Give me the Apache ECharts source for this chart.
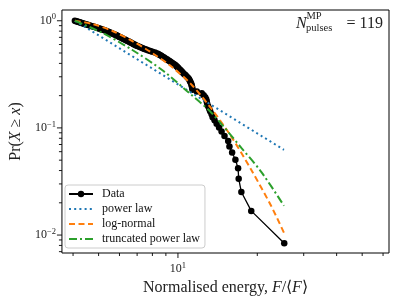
<!DOCTYPE html>
<html><head><meta charset="utf-8">
<script src="https://cdn.jsdelivr.net/npm/echarts@6/dist/echarts.min.js"></script>
<style>html,body{margin:0;padding:0;background:#fff}#c{width:399px;height:301px}</style>
</head><body><div id="c"></div>
<script>
// Empirical CCDF (normalised energy vs Pr(X >= x))
const dataX = [
  4.064, 4.107, 4.153, 4.197, 4.240, 4.289, 4.334, 4.383, 4.433, 4.498,
  4.549, 4.601, 4.656, 4.722, 4.775, 4.845, 4.900, 4.965, 5.012, 5.077,
  5.144, 5.197, 5.261, 5.330, 5.385, 5.436, 5.493, 5.551, 5.604, 5.662,
  5.716, 5.786, 5.841, 5.892, 5.954, 6.006, 6.069, 6.132, 6.186, 6.250,
  6.315, 6.381, 6.447, 6.514, 6.582, 6.646, 6.726, 6.792, 6.874, 6.940,
  7.024, 7.135, 7.241, 7.354, 7.463, 7.581, 7.693, 7.847, 7.998, 8.181,
  8.352, 8.447, 8.543, 8.646, 8.752, 8.860, 8.967, 9.077, 9.180, 9.290,
  9.395, 9.519, 9.643, 9.768, 9.853, 9.948, 10.03, 10.13, 10.23, 10.34,
  10.44, 10.55, 10.67, 10.79, 10.91, 11.01, 11.08, 11.14, 11.21, 11.27,
  11.30, 11.33, 11.36, 11.79, 12.31, 12.52, 12.69, 12.80, 12.86, 12.91,
  13.02, 13.14, 13.25, 13.42, 13.54, 13.77, 14.02, 14.32, 14.64, 15.02,
  15.51, 15.68, 16.05, 16.52, 16.91, 17.00, 17.40, 18.97, 25.31
];
const dataY = [
  1.0, 0.99160, 0.98319, 0.97479, 0.96639, 0.95798, 0.94958, 0.94118, 0.93277, 0.92437,
  0.91597, 0.90756, 0.89916, 0.89076, 0.88235, 0.87395, 0.86555, 0.85714, 0.84874, 0.84034,
  0.83193, 0.82353, 0.81513, 0.80672, 0.79832, 0.78992, 0.78151, 0.77311, 0.76471, 0.75630,
  0.74790, 0.73950, 0.73109, 0.72269, 0.71429, 0.70588, 0.69748, 0.68908, 0.68067, 0.67227,
  0.66387, 0.65546, 0.64706, 0.63866, 0.63025, 0.62185, 0.61345, 0.60504, 0.59664, 0.58824,
  0.57983, 0.57143, 0.56303, 0.55462, 0.54622, 0.53782, 0.52941, 0.52101, 0.51261, 0.50420,
  0.49580, 0.48739, 0.47899, 0.47059, 0.46218, 0.45378, 0.44538, 0.43697, 0.42857, 0.42017,
  0.41176, 0.40336, 0.39496, 0.38655, 0.37815, 0.36975, 0.36134, 0.35294, 0.34454, 0.33613,
  0.32773, 0.31933, 0.31092, 0.30252, 0.29412, 0.28571, 0.27731, 0.26891, 0.26050, 0.25210,
  0.24370, 0.23529, 0.22689, 0.21849, 0.21008, 0.20168, 0.19328, 0.18487, 0.17647, 0.16807,
  0.15966, 0.15126, 0.14286, 0.13445, 0.12605, 0.11765, 0.10924, 0.10084, 0.09244, 0.08403,
  0.07563, 0.06723, 0.05882, 0.05042, 0.04202, 0.03361, 0.02521, 0.01681, 0.00840
];
// Fitted models
const powerLawX = [4.064, 25.25];
const powerLawY = [1.0, 0.0624];
const logNormalX = [4.064, 4.750, 5.648, 6.715, 7.986, 9.494, 11.29, 13.42, 15.96, 18.97, 22.56, 25.25];
const logNormalY = [1.0, 0.9316, 0.8017, 0.6468, 0.5000, 0.3703, 0.2516, 0.1503, 0.0824, 0.0406, 0.01875, 0.01050];
const truncX = [4.064, 5.180, 6.715, 8.707, 10.81, 13.42, 17.40, 20.70, 25.25];
const truncY = [1.0, 0.768, 0.5333, 0.3471, 0.2212, 0.1379, 0.0651, 0.0389, 0.01875];

const seriesNames = ['Data', 'power law', 'log-normal', 'truncated power law'];
const xMajorTicks = [10];
const xMinorTicks = [4, 5, 6, 7, 8, 9, 20, 30, 40, 50, 60];
const yMajorTicks = [0.01, 0.1, 1];
const yMinorTicks = [0.007, 0.008, 0.009, 0.02, 0.03, 0.04, 0.05, 0.06, 0.07, 0.08, 0.09,
                     0.2, 0.3, 0.4, 0.5, 0.6, 0.7, 0.8, 0.9];

const X_MIN = 3.63, X_MAX = 63.2, Y_MIN = 0.0068, Y_MAX = 1.26;
const FONT = '"Liberation Serif", "Times New Roman", serif';

const zip = (a, b) => a.map((v, i) => [v, b[i]]);

function tickSeries(values, axis, len) {
  return {
    type: 'custom', coordinateSystem: 'cartesian2d', silent: true, clip: false, z: 1,
    data: values.map(v => axis === 'x' ? [v, Y_MIN] : [X_MIN, v]),
    renderItem: (params, api) => {
      const p = api.coord([api.value(0), api.value(1)]);
      const shape = axis === 'x'
        ? {x1: p[0], y1: p[1], x2: p[0], y2: p[1] + len}
        : {x1: p[0], y1: p[1], x2: p[0] - len, y2: p[1]};
      return {type: 'line', shape: shape, style: {stroke: '#000', lineWidth: 0.9}};
    }
  };
}

function powLabel(v) {
  const e = Math.log10(v);
  if (Math.abs(e - Math.round(e)) > 1e-6) return '';
  const n = Math.round(e);
  return '{b|10}{s|' + (n < 0 ? '\u2212' + (-n) : n) + '}';
}
const richTick = {
  b: {fontFamily: FONT, fontSize: 12, color: '#222', lineHeight: 16},
  s: {fontFamily: FONT, fontSize: 8.5, color: '#222', verticalAlign: 'top', lineHeight: 10}
};

const chart = echarts.init(document.getElementById('c'), null, {renderer: 'canvas'});
chart.setOption({
  animation: false,
  backgroundColor: '#fff',
  grid: {left: 59, right: 10, top: 10, bottom: 48, show: true, borderColor: '#000', borderWidth: 1, backgroundColor: 'transparent'},
  xAxis: {
    type: 'log', logBase: 10, min: X_MIN, max: X_MAX,
    axisLine: {show: false}, axisTick: {show: false}, splitLine: {show: false},
    axisLabel: {formatter: powLabel, rich: richTick, margin: 8, showMinLabel: false, showMaxLabel: false},
    name: '{t|Normalised energy, }{i|F}{t|/\u27E8}{i|F}{t|\u27E9}',
    nameLocation: 'middle', nameGap: 22,
    nameTextStyle: {rich: {
      t: {fontFamily: FONT, fontSize: 16, color: '#222'},
      i: {fontFamily: FONT, fontSize: 16, fontStyle: 'italic', color: '#222'}
    }}
  },
  yAxis: {
    type: 'log', logBase: 10, min: Y_MIN, max: Y_MAX,
    axisLine: {show: false}, axisTick: {show: false}, splitLine: {show: false},
    axisLabel: {formatter: powLabel, rich: richTick, margin: 6, showMinLabel: false, showMaxLabel: false},
    name: '{t|Pr(}{i|X}{t| \u2265 }{i|x}{t|)}',
    nameLocation: 'middle', nameGap: 37, nameRotate: 90,
    nameTextStyle: {rich: {
      t: {fontFamily: FONT, fontSize: 16, color: '#222'},
      i: {fontFamily: FONT, fontSize: 16, fontStyle: 'italic', color: '#222'}
    }}
  },
  legend: {
    orient: 'vertical', left: 65, top: 185,
    data: seriesNames.map((n, i) => i === 0 ? {name: n} : {name: n, itemStyle: {opacity: 0}}),
    itemWidth: 24, itemHeight: 8, itemGap: 3,
    padding: [3, 5, 3, 3],
    borderColor: '#ccc', borderWidth: 1, borderRadius: 3, backgroundColor: 'rgba(255,255,255,0.8)',
    textStyle: {fontFamily: FONT, fontSize: 12, color: '#111', padding: [0, 0, 0, 4], lineHeight: 12}
  },
  graphic: [
    {type: 'text', x: 296, y: 24, style: {text: 'N', font: 'italic 16px ' + FONT, fill: '#222', align: 'left', verticalAlign: 'middle'}},
    {type: 'text', x: 306.5, y: 16.5, style: {text: 'MP', font: '10.5px ' + FONT, fill: '#222', align: 'left', verticalAlign: 'middle'}},
    {type: 'text', x: 306, y: 28, style: {text: 'pulses', font: '10.5px ' + FONT, fill: '#222', align: 'left', verticalAlign: 'middle'}},
    {type: 'text', x: 383, y: 24, style: {text: '= 119', font: '16px ' + FONT, fill: '#222', align: 'right', verticalAlign: 'middle'}}
  ],
  series: [
    {
      name: 'Data', type: 'line', data: zip(dataX, dataY), z: 2,
      symbol: 'circle', symbolSize: 6.5, showSymbol: true, showAllSymbol: true,
      itemStyle: {color: '#000'}, lineStyle: {color: '#000', width: 1.3}
    },
    {
      name: 'power law', type: 'line', data: zip(powerLawX, powerLawY), z: 3,
      symbol: 'none', itemStyle: {color: '#1f77b4'},
      lineStyle: {color: '#1f77b4', width: 2, type: [2, 3.2]}
    },
    {
      name: 'log-normal', type: 'line', data: zip(logNormalX, logNormalY), z: 3, smooth: 0.3,
      symbol: 'none', itemStyle: {color: '#ff7f0e'},
      lineStyle: {color: '#ff7f0e', width: 2, type: [6, 3.5]}
    },
    {
      name: 'truncated power law', type: 'line', data: zip(truncX, truncY), z: 3, smooth: 0.3,
      symbol: 'none', itemStyle: {color: '#2ca02c'},
      lineStyle: {color: '#2ca02c', width: 2, type: [8, 3, 2, 3]}
    },
    tickSeries(xMajorTicks, 'x', 5),
    tickSeries(xMinorTicks, 'x', 3),
    tickSeries(yMajorTicks, 'y', 5),
    tickSeries(yMinorTicks, 'y', 3)
  ]
});
</script>
</body></html>
